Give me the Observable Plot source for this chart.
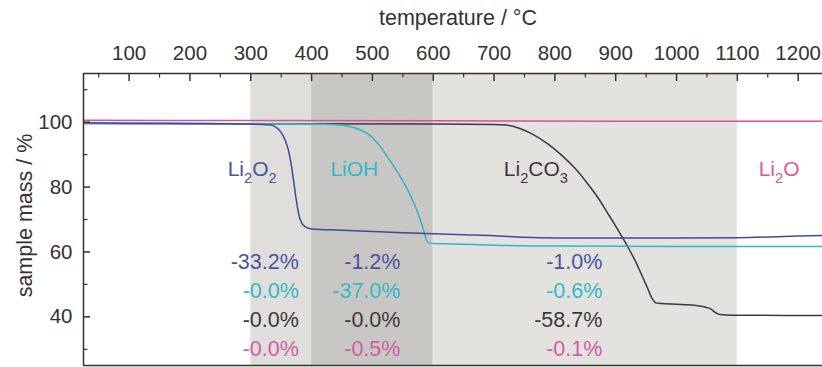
<!DOCTYPE html>
<html><head><meta charset="utf-8">
<script src="https://cdn.jsdelivr.net/npm/d3@7"></script>
<script src="https://cdn.jsdelivr.net/npm/@observablehq/plot@0.6"></script>
<style>
html,body{margin:0;padding:0;background:#fff;}
#chart svg{display:block;}
</style></head><body><div id="chart"></div>
<script>
// ---- data ----
const li2o2Temp = [25,100,200,300,330,340,350,357,362,366,370,375,379,383,390,400,450,500,550,600,650,700,750,800,900,1000,1100,1200,1240];
const li2o2Mass = [99.8,99.7,99.6,99.4,99.2,98.6,96.8,94.3,91.3,87.5,82.5,75.8,71.5,69.2,67.7,67.1,66.7,66.3,65.9,65.6,65.3,65.0,64.5,64.3,64.3,64.3,64.4,64.9,65.1];

const liohTemp = [25,200,400,440,460,480,493,510,525,540,552,562,570,578,584,589,593,600,650,700,800,1000,1240];
const liohMass = [99.7,99.6,99.4,99.2,98.8,97.6,96.3,93.2,89.2,85,81.2,77.6,74.3,70.3,66.8,63.6,62.8,62.6,62.4,62.1,61.8,61.7,61.7];

const li2co3Temp = [25,300,600,700,720,740,760,789,810,832,852,871,886,898,910,921,932,942,952,960,966,975,1000,1029,1045,1057,1064,1072,1090,1240];
const li2co3Mass = [99.6,99.5,99.4,99.3,99.1,98.2,96.6,93.2,90,86,81.5,76.7,72.2,68.6,64.8,61.2,57.3,53.2,49,45.6,44.3,44.1,43.9,43.6,43.1,42.4,41.3,40.7,40.5,40.4];

const li2oTemp = [25,300,600,900,1240];
const li2oMass = [100.6,100.5,100.4,100.3,100.3];

const compounds = ["Li₂O₂", "LiOH", "Li₂CO₃", "Li₂O"];
const compoundLabelTemp = [262, 431, 716, 1135];
const compoundLabelMass = [85.6, 85.6, 85.6, 85.6];

const regionStart = [300, 400, 600];
const regionEnd = [400, 600, 1100];
const regionShade = ["light", "dark", "light2"];

// mass change per temperature window (rows: compounds, cols: windows)
const windowLabelTemp = [379, 546, 878];
const lossLi2O2 = [-33.2, -1.2, -1.0];
const lossLiOH = [-0.0, -37.0, -0.6];
const lossLi2CO3 = [-0.0, -0.0, -58.7];
const lossLi2O = [-0.0, -0.5, -0.1];
const lossRowMass = [56.75, 47.8, 38.85, 29.9];

const xTicks = [100,200,300,400,500,600,700,800,900,1000,1100,1200];
const xMinorTicks = [50,150,250,350,450,550,650,750,850,950,1050,1150];
const yTicks = [40, 60, 80, 100];
const yMinorTicks = [30, 50, 70, 90, 110];

// ---- styles ----
const lineColor = {"Li₂O₂": "#3e4a9c", "LiOH": "#2db6c6", "Li₂CO₃": "#3a3a3a", "Li₂O": "#d6509a"};
const textColor = {"Li₂O₂": "#4a54a2", "LiOH": "#35b8c8", "Li₂CO₃": "#3a3a3a", "Li₂O": "#d35d9f"};
const shadeFill = {light: "#dfdedb", dark: "#c9c7c4", light2: "#e3e2df"};
const axisColor = "#333";
const font = "'Liberation Sans', Arial, Helvetica, sans-serif";

const W = 822, H = 367, mL = 83, mR = 0, mT = 73, mB = 2;
const xDomain = [25, 1240], yDomain = [25, 115];
const pxX = (W - mL - mR) / (xDomain[1] - xDomain[0]);
const pxY = (H - mT - mB) / (yDomain[1] - yDomain[0]);

const series = [
  {name: "Li₂CO₃", t: li2co3Temp, m: li2co3Mass},
  {name: "LiOH", t: liohTemp, m: liohMass},
  {name: "Li₂O₂", t: li2o2Temp, m: li2o2Mass},
  {name: "Li₂O", t: li2oTemp, m: li2oMass}
];
const regions = regionStart.map((s, i) => ({x1: s, x2: regionEnd[i], shade: regionShade[i]}));
const labels = compounds.map((c, i) => ({name: c, t: compoundLabelTemp[i], m: compoundLabelMass[i]}));
const lossRows = [lossLi2O2, lossLiOH, lossLi2CO3, lossLi2O];
const lossLabels = [];
lossRows.forEach((row, r) => row.forEach((v, c) => lossLabels.push({
  name: compounds[r], t: windowLabelTemp[c], m: lossRowMass[r],
  text: "-" + Math.abs(v).toFixed(1) + "%"
})));

const marks = [
  ...regions.map(r => Plot.rect([r], {x1: "x1", x2: "x2", fill: shadeFill[r.shade]})),
  ...series.map(s => Plot.line(s.t.map((t, i) => ({t, m: s.m[i]})), {
    x: "t", y: "m", stroke: lineColor[s.name], strokeWidth: 1.5, curve: "monotone-x", clip: true
  })),
  Plot.text(labels, {x: "t", y: "m", text: "name", fill: d => textColor[d.name], textAnchor: "start", fontSize: 21}),
  Plot.text(lossLabels, {x: "t", y: "m", text: "text", fill: d => textColor[d.name], textAnchor: "end", fontSize: 21.5}),
  // frame
  Plot.ruleX([xDomain[0]], {stroke: axisColor, strokeWidth: 1.5}),
  Plot.ruleY([yDomain[1], yDomain[0]], {stroke: axisColor, strokeWidth: 1.5}),
  // inward ticks
  Plot.ruleX(xTicks, {y1: yDomain[1], y2: yDomain[1] - 8 / pxY, stroke: axisColor, strokeWidth: 1.5}),
  Plot.ruleX(xMinorTicks, {y1: yDomain[1], y2: yDomain[1] - 4.5 / pxY, stroke: axisColor, strokeWidth: 1.2}),
  Plot.ruleY(yTicks, {x1: xDomain[0], x2: xDomain[0] + 7 / pxX, stroke: axisColor, strokeWidth: 1.5}),
  Plot.ruleY(yMinorTicks, {x1: xDomain[0], x2: xDomain[0] + 4.5 / pxX, stroke: axisColor, strokeWidth: 1.2}),
  Plot.axisX({anchor: "top", ticks: xTicks, tickSize: 0, tickPadding: 14, fontSize: 20.5, label: null, tickFormat: d => String(d), fill: axisColor}),
  Plot.axisY({anchor: "left", ticks: yTicks, tickSize: 0, tickPadding: 11, fontSize: 20.5, label: null, tickFormat: d => String(d), fill: axisColor}),
  Plot.text(["temperature / °C"], {frameAnchor: "top", dx: 5, dy: -49, lineAnchor: "bottom", fontSize: 21.5, fill: axisColor}),
  Plot.text(["sample mass / %"], {frameAnchor: "left", textAnchor: "middle", rotate: -90, dx: -58, dy: -4, fontSize: 21.5, fill: axisColor})
];

const chart = Plot.plot({
  width: W, height: H,
  marginLeft: mL, marginRight: mR, marginTop: mT, marginBottom: mB,
  x: {domain: xDomain},
  y: {domain: yDomain},
  style: {fontFamily: font, background: "#fff", overflow: "visible"},
  marks
});

// render subscript digits as lowered, smaller tspans
const subDigits = {"₀":"0","₁":"1","₂":"2","₃":"3","₄":"4","₅":"5","₆":"6","₇":"7","₈":"8","₉":"9"};
const NS = "http://www.w3.org/2000/svg";
chart.querySelectorAll("text").forEach(el => {
  const str = el.textContent;
  if (!/[₀-₉]/.test(str)) return;
  const fs = 21, shift = 0.33 * fs;
  const runs = [];
  for (const ch of str) {
    const sub = ch in subDigits;
    const c = sub ? subDigits[ch] : ch;
    if (runs.length && runs[runs.length - 1].sub === sub) runs[runs.length - 1].s += c;
    else runs.push({sub, s: c});
  }
  while (el.firstChild) el.removeChild(el.firstChild);
  let cur = 0;
  runs.forEach(r => {
    const ts = document.createElementNS(NS, "tspan");
    const target = r.sub ? shift : 0;
    if (target !== cur) ts.setAttribute("dy", target - cur);
    cur = target;
    if (r.sub) ts.setAttribute("font-size", (0.7 * fs) + "px");
    ts.textContent = r.s;
    el.appendChild(ts);
  });
});

document.getElementById("chart").appendChild(chart);
</script></body></html>
